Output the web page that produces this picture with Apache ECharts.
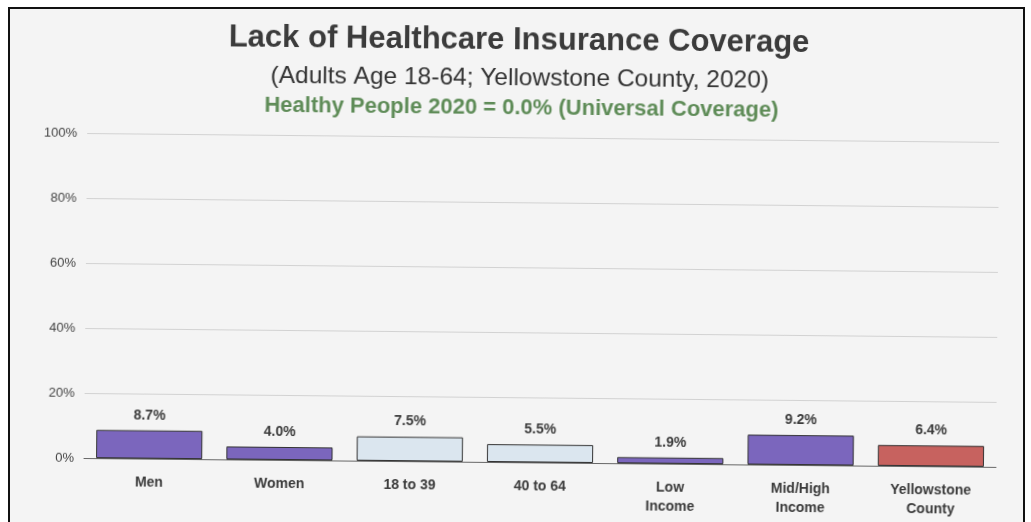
<!DOCTYPE html>
<html>
<head>
<meta charset="utf-8">
<script src="https://cdn.jsdelivr.net/npm/echarts@6/dist/echarts.min.js"></script>
<style>
  html, body { margin: 0; padding: 0; background: #ffffff; overflow: hidden; }
  #frame {
    position: absolute; left: 8px; top: 7px; width: 1013px; height: 600px;
    border: 2px solid #111; background: #f4f4f4;
  }
  #chart {
    position: absolute; left: 0; top: 0; width: 1031px; height: 522px;
    transform: rotate(0.56deg); transform-origin: 84px 458px;
  }
</style>
</head>
<body>
<div id="frame"></div>
<div id="chart"></div>
<script>
// Uninsured share of adults 18-64, by group
const categories = ['Men', 'Women', '18 to 39', '40 to 64', 'Low\nIncome', 'Mid/High\nIncome', 'Yellowstone\nCounty'];
const values = [8.7, 4.0, 7.5, 5.5, 1.9, 9.2, 6.4];
const barColors = ['#7b66bd', '#7b66bd', '#dbe6ef', '#dbe6ef', '#7b66bd', '#7b66bd', '#c7625f'];
const yTicks = [0, 20, 40, 60, 80, 100];

const titleText = 'Lack of Healthcare Insurance Coverage';
const subtitleText = '(Adults Age 18-64; Yellowstone County, 2020)';
const targetText = 'Healthy People 2020 = 0.0% (Universal Coverage)';

const chart = echarts.init(document.getElementById('chart'), null, { renderer: 'canvas' });

chart.setOption({
  backgroundColor: 'transparent',
  animation: false,
  title: [
    {
      text: titleText, left: 510, top: 16, textAlign: 'center',
      textStyle: { fontFamily: 'Liberation Sans, Arial, sans-serif', fontSize: 31, fontWeight: 'bold', color: '#3b3b3b' }
    },
    {
      text: subtitleText, left: 511, top: 57, textAlign: 'center',
      textStyle: { fontFamily: 'Liberation Sans, Arial, sans-serif', fontSize: 24.5, fontWeight: 'normal', color: '#333333' }
    },
    {
      text: targetText, left: 513, top: 88, textAlign: 'center',
      textStyle: { fontFamily: 'Liberation Sans, Arial, sans-serif', fontSize: 22, fontWeight: 'bold', color: '#5f8c58' }
    }
  ],
  grid: { left: 84, top: 133, width: 912, height: 325, containLabel: false },
  xAxis: {
    type: 'category',
    data: categories,
    axisLine: { show: true, lineStyle: { color: '#666666', width: 1 } },
    axisTick: { show: false },
    axisLabel: {
      margin: 15, lineHeight: 19, interval: 0,
      fontFamily: 'Liberation Sans, Arial, sans-serif', fontSize: 14, fontWeight: 'bold', color: '#3a3a3a'
    }
  },
  yAxis: {
    type: 'value',
    min: yTicks[0], max: yTicks[yTicks.length - 1], interval: 20,
    axisLine: { show: false },
    axisTick: { show: false },
    splitLine: { show: true, lineStyle: { color: '#d2d2d2', width: 1 } },
    axisLabel: {
      margin: 10, formatter: '{value}%',
      fontFamily: 'Liberation Sans, Arial, sans-serif', fontSize: 13, color: '#444444'
    }
  },
  series: [{
    type: 'bar',
    data: values.map((v, i) => ({ value: v, itemStyle: { color: barColors[i] } })),
    barCategoryGap: '18.5%',
    itemStyle: { borderColor: '#333333', borderWidth: 1 },
    label: {
      show: true, position: 'top', distance: 8,
      formatter: p => p.value.toFixed(1) + '%',
      fontFamily: 'Liberation Sans, Arial, sans-serif', fontSize: 14, fontWeight: 'bold', color: '#3a3a3a'
    }
  }]
});
</script>
</body>
</html>
